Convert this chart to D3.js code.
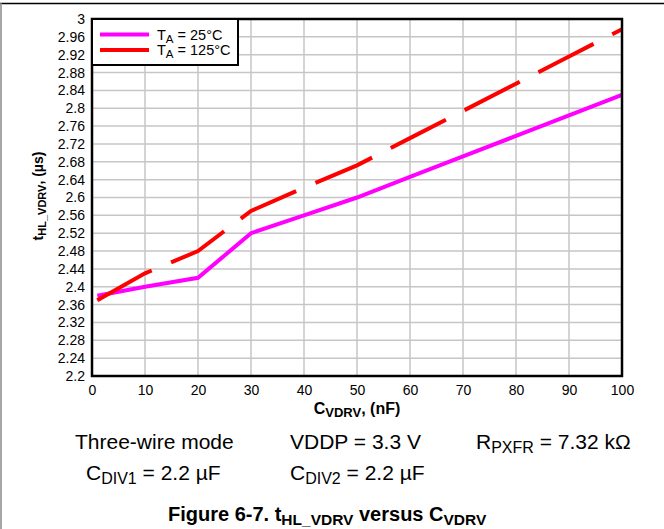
<!DOCTYPE html>
<html><head><meta charset="utf-8">
<script src="https://cdn.jsdelivr.net/npm/d3@7/dist/d3.min.js"></script>
<style>
body{margin:0;background:#fff;}
text{font-family:"Liberation Sans",Arial,sans-serif;}
</style></head>
<body><svg id="c" width="664" height="529"></svg>
<script>
const capX = [1, 10, 20, 30, 40, 50, 60, 70, 80, 90, 100];
const t25 = [2.38, 2.40, 2.42, 2.52, 2.56, 2.60, 2.646, 2.692, 2.738, 2.784, 2.83];
const t125 = [2.37, 2.43, 2.48, 2.57, 2.622, 2.672, 2.733, 2.794, 2.855, 2.916, 2.977];
const xTicks = [0, 10, 20, 30, 40, 50, 60, 70, 80, 90, 100];
const yTicks = [2.2, 2.24, 2.28, 2.32, 2.36, 2.4, 2.44, 2.48, 2.52, 2.56, 2.6, 2.64, 2.68, 2.72, 2.76, 2.8, 2.84, 2.88, 2.92, 2.96, 3];
const yTickLabels = ["2.2","2.24","2.28","2.32","2.36","2.4","2.44","2.48","2.52","2.56","2.6","2.64","2.68","2.72","2.76","2.8","2.84","2.88","2.92","2.96","3"];

const svg = d3.select("#c");
const L = 92, R = 622, T = 19, B = 376;
const x = d3.scaleLinear().domain([0, 100]).range([L, R]);
const y = d3.scaleLinear().domain([2.2, 3]).range([B, T]);

// outer frame
svg.append("line").attr("x1",0).attr("x2",664).attr("y1",3.5).attr("y2",3.5).attr("stroke","#000").attr("stroke-width",1.5);
svg.append("line").attr("x1",1).attr("x2",1).attr("y1",3).attr("y2",529).attr("stroke","#888").attr("stroke-width",1.5);

// grid
const g = svg.append("g");
g.selectAll(".vg").data(xTicks).join("line")
  .attr("x1",d=>x(d)).attr("x2",d=>x(d)).attr("y1",T).attr("y2",B)
  .attr("stroke","#c6c6c6").attr("stroke-width",1.5);
g.selectAll(".hg").data(yTicks).join("line")
  .attr("y1",d=>y(d)).attr("y2",d=>y(d)).attr("x1",L).attr("x2",R)
  .attr("stroke","#c6c6c6").attr("stroke-width",1.5);

// axes labels
const yAxis = d3.axisLeft(y).tickValues(yTicks).tickSize(0).tickPadding(7)
  .tickFormat((d,i)=>yTickLabels[i]);
const ya = svg.append("g").attr("transform",`translate(${L},0)`).call(yAxis);
ya.select(".domain").remove();
ya.selectAll("text").attr("font-size",14).attr("fill","#000").style("font-family","'Liberation Sans',Arial,sans-serif");

const xAxis = d3.axisBottom(x).tickValues(xTicks).tickSize(0).tickPadding(9);
const xa = svg.append("g").attr("transform",`translate(0,${B})`).call(xAxis);
xa.select(".domain").remove();
xa.selectAll("text").attr("font-size",14).attr("fill","#000").style("font-family","'Liberation Sans',Arial,sans-serif");

// lines
const line = d3.line().x((d,i)=>x(capX[i])).y(d=>y(d));
svg.append("path").datum(t25).attr("d",line).attr("fill","none")
  .attr("stroke","#ff00ff").attr("stroke-width",4);
svg.append("path").datum(t125).attr("d",line).attr("fill","none")
  .attr("stroke","#ff0000").attr("stroke-width",4).attr("stroke-dasharray","62,21");

// plot border
svg.append("rect").attr("x",L).attr("y",T).attr("width",R-L).attr("height",B-T)
  .attr("fill","none").attr("stroke","#000").attr("stroke-width",2.5);

// legend
const lg = svg.append("g");
lg.append("rect").attr("x",L).attr("y",T).attr("width",146).attr("height",46)
  .attr("fill","#fff").attr("stroke","#000").attr("stroke-width",2);
const legItems = [{c:"#ff00ff",t:"25°C"},{c:"#ff0000",t:"125°C"}];
legItems.forEach((d,i)=>{
  const yy = 34.5 + i*15.5;
  lg.append("line").attr("x1",100).attr("x2",149).attr("y1",yy).attr("y2",yy)
    .attr("stroke",d.c).attr("stroke-width",4);
  const tx = lg.append("text").attr("x",157).attr("y",yy+5).attr("font-size",14.5);
  tx.append("tspan").text("T");
  tx.append("tspan").attr("font-size",11.5).attr("dy",3).text("A");
  tx.append("tspan").attr("dy",-3).text(" = "+d.t);
});

// axis titles
const xt = svg.append("text").attr("x",357).attr("y",414).attr("text-anchor","middle")
  .attr("font-size",16).attr("font-weight","bold");
xt.append("tspan").text("C");
xt.append("tspan").attr("font-size",13).attr("dy",3).text("VDRV");
xt.append("tspan").attr("dy",-3).text(", (nF)");

const yt = svg.append("text").attr("transform","translate(43,196) rotate(-90)").attr("text-anchor","middle")
  .attr("font-size",14).attr("font-weight","bold");
yt.append("tspan").text("t");
yt.append("tspan").attr("font-size",11).attr("dy",3).text("HL_VDRV");
yt.append("tspan").attr("dy",-3).text(", (µs)");

// captions
const fs = 21, sfs = 16;
svg.append("text").attr("x",75).attr("y",449).attr("font-size",fs).text("Three-wire mode");
svg.append("text").attr("x",290).attr("y",449).attr("font-size",fs).text("VDDP = 3.3 V");
const c3 = svg.append("text").attr("x",476).attr("y",449).attr("font-size",fs);
c3.append("tspan").text("R");
c3.append("tspan").attr("font-size",sfs).attr("dy",4).text("PXFR");
c3.append("tspan").attr("dy",-4).text(" = 7.32 kΩ");
const c4 = svg.append("text").attr("x",86).attr("y",480).attr("font-size",fs);
c4.append("tspan").text("C");
c4.append("tspan").attr("font-size",sfs).attr("dy",4).text("DIV1");
c4.append("tspan").attr("dy",-4).text(" = 2.2 µF");
const c5 = svg.append("text").attr("x",290).attr("y",480).attr("font-size",fs);
c5.append("tspan").text("C");
c5.append("tspan").attr("font-size",sfs).attr("dy",4).text("DIV2");
c5.append("tspan").attr("dy",-4).text(" = 2.2 µF");

const ft = svg.append("text").attr("x",168).attr("y",521).attr("font-size",20).attr("font-weight","bold");
ft.append("tspan").text("Figure 6-7. t");
ft.append("tspan").attr("font-size",15.5).attr("dy",4).text("HL_VDRV");
ft.append("tspan").attr("dy",-4).text(" versus C");
ft.append("tspan").attr("font-size",15.5).attr("dy",4).text("VDRV");
</script></body></html>
